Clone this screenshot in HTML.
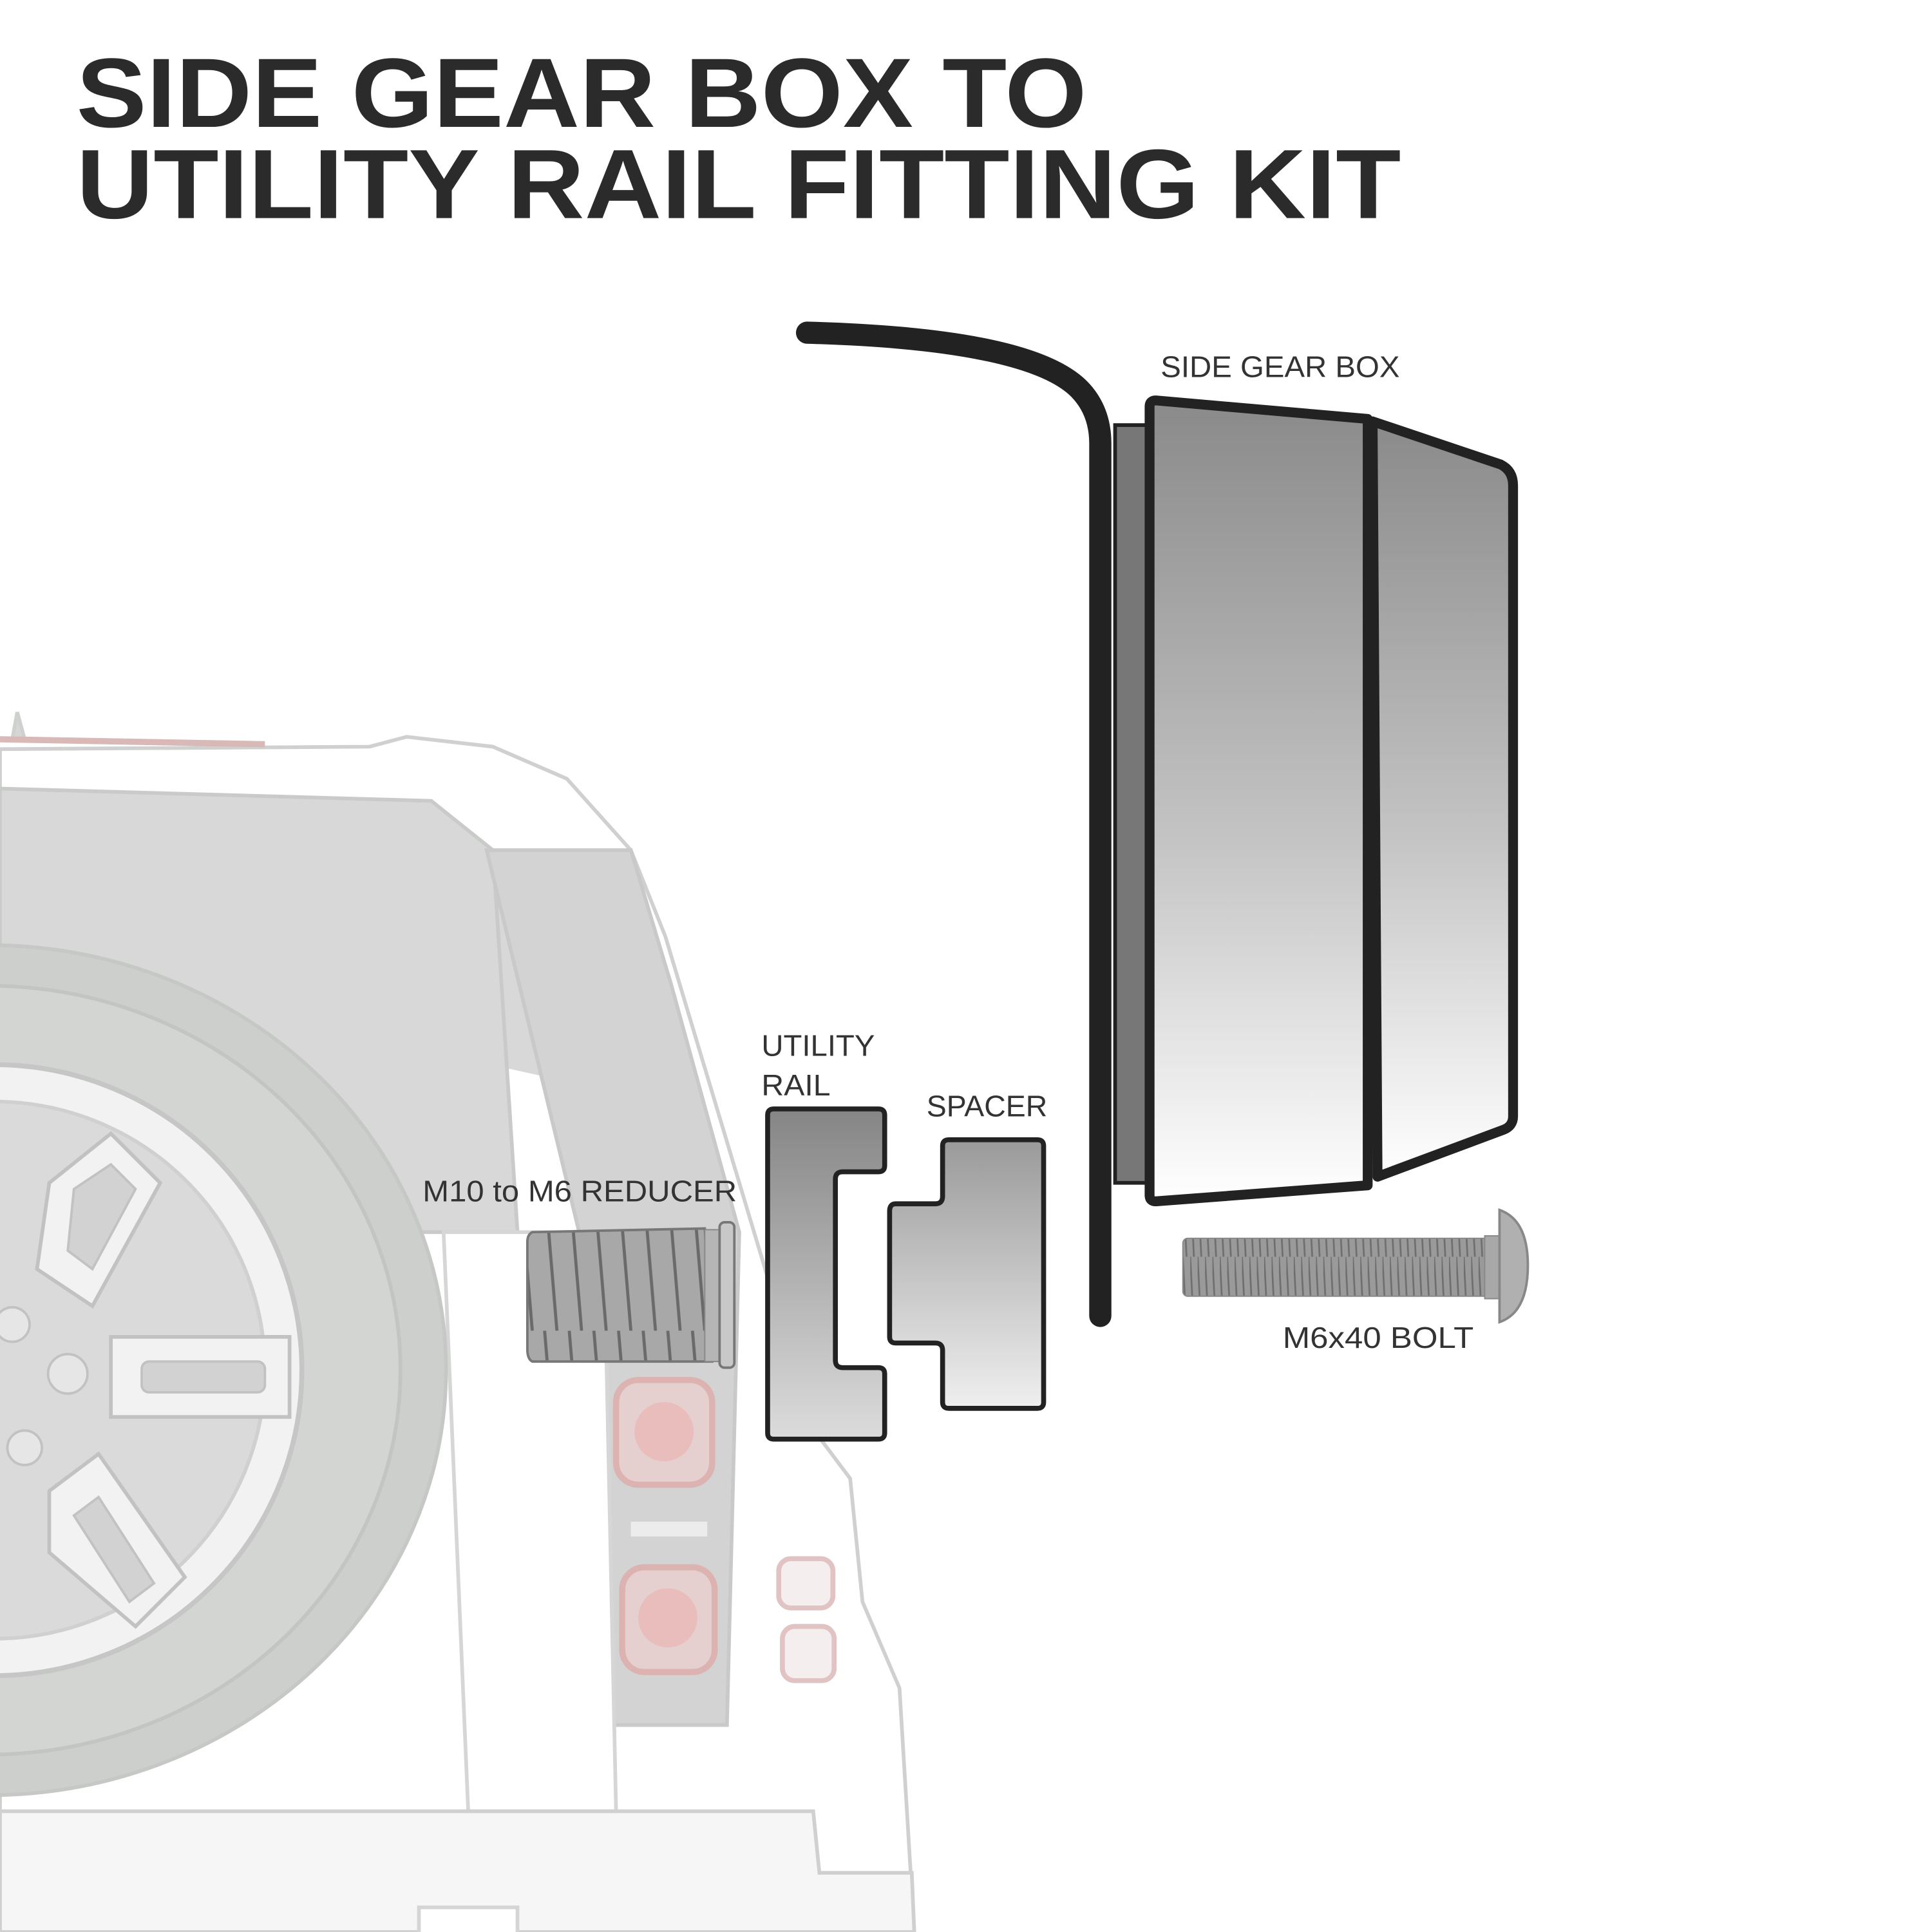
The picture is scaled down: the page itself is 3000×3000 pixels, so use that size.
<!DOCTYPE html>
<html><head><meta charset="utf-8"><style>
html,body{margin:0;padding:0;background:#fff}
svg{display:block}
</style></head><body>
<svg width="3000" height="3000" viewBox="0 0 1568 1568" xmlns="http://www.w3.org/2000/svg">
<defs>
<linearGradient id="gb" x1="0" y1="0" x2="0" y2="1"><stop offset="0" stop-color="#8a8a8a"/><stop offset="0.55" stop-color="#c4c4c4"/><stop offset="1" stop-color="#ffffff"/></linearGradient>
<linearGradient id="gr" x1="0" y1="0" x2="0" y2="1"><stop offset="0" stop-color="#858585"/><stop offset="1" stop-color="#dcdcdc"/></linearGradient>
<linearGradient id="gs" x1="0" y1="0" x2="0" y2="1"><stop offset="0" stop-color="#9a9a9a"/><stop offset="1" stop-color="#efefef"/></linearGradient>
<linearGradient id="gm" x1="0" y1="0" x2="0" y2="1"><stop offset="0" stop-color="#bdbdbd"/><stop offset="0.5" stop-color="#8c8c8c"/><stop offset="1" stop-color="#b0b0b0"/></linearGradient>
<pattern id="thr" width="6" height="60" patternUnits="userSpaceOnUse"><rect width="6" height="60" fill="#9a9a9a"/><line x1="0" y1="0" x2="3" y2="60" stroke="#6e6e6e" stroke-width="1.4"/></pattern>
<pattern id="thr2" width="20" height="120" patternUnits="userSpaceOnUse"><rect width="20" height="120" fill="#a8a8a8"/><line x1="2" y1="0" x2="12" y2="120" stroke="#6a6a6a" stroke-width="2.5"/></pattern>
</defs>

<!-- Title -->
<g font-family="Liberation Sans, sans-serif" font-weight="bold" fill="#2b2b2b">
<text x="62" y="103" font-size="80" textLength="820" lengthAdjust="spacingAndGlyphs">SIDE GEAR BOX  TO</text>
<text x="62" y="177" font-size="80" textLength="1075" lengthAdjust="spacingAndGlyphs">UTILITY RAIL FITTING KIT</text>
</g>

<!-- Car (faded) -->
<g stroke="#cfd1cf" stroke-width="3">
<!-- antenna -->
<path d="M10 600 L14 578 L20 600 Z" fill="#d6d6d6"/>
<!-- roof/body outline -->
<path d="M0 608 L300 606 L330 598 L400 606 L460 632 L512 690 L540 760 L600 960 L660 1160 L690 1200 L700 1300 L730 1370 L742 1568 L0 1568 Z" fill="#ffffff"/>
<path d="M0 600 L215 604" stroke="#d9b8b8" stroke-width="5"/>
<!-- window -->
<path d="M0 640 L350 650 L400 690 L512 690 L560 900 L380 860 L0 780 Z" fill="#d7d8d7" stroke="none"/>
<path d="M0 640 L350 650 L400 690 L420 1000 L0 1000 Z" fill="#d7d8d7" stroke="#c9cbc9"/>
<!-- right pillar -->
<path d="M395 690 L512 690 L545 800 L600 1000 L590 1400 L480 1400 L470 1000 Z" fill="#d2d3d2" stroke="#c8c9c8"/>
<!-- tailgate white -->
<path d="M360 1000 L490 1000 L500 1470 L380 1470 Z" fill="#ffffff" stroke="#d6d6d6"/>
<!-- tail lights -->
<rect x="500" y="1120" width="78" height="85" rx="18" fill="#e5d0cf" stroke="#dcb3b0" stroke-width="5"/>
<circle cx="539" cy="1162" r="24" fill="#e8bdbb" stroke="none"/>
<rect x="512" y="1235" width="62" height="12" fill="#ececec" stroke="none"/>
<rect x="505" y="1272" width="75" height="85" rx="18" fill="#e5d0cf" stroke="#dcb3b0" stroke-width="5"/>
<circle cx="542" cy="1313" r="24" fill="#e8bdbb" stroke="none"/>
<rect x="632" y="1265" width="44" height="40" rx="10" fill="#f4eeee" stroke="#e0c3c2" stroke-width="4"/>
<rect x="635" y="1320" width="42" height="44" rx="10" fill="#f4eeee" stroke="#e0c3c2" stroke-width="4"/>
<!-- bumper -->
<path d="M0 1470 L660 1470 L665 1520 L740 1520 L742 1568 L0 1568 Z" fill="#f6f6f6" stroke="#d0d0d0"/>
<rect x="340" y="1548" width="80" height="25" fill="#fff" stroke="#d5d5d5"/>
<!-- tire -->
<ellipse cx="-10" cy="1112" rx="372" ry="345" fill="#cdcfcd" stroke="#c6c8c6"/>
<ellipse cx="-10" cy="1112" rx="335" ry="312" fill="#d3d5d3" stroke="#c3c5c3"/>
<!-- rim -->
<ellipse cx="-5" cy="1112" rx="250" ry="248" fill="#f2f2f2" stroke="#c6c6c6" stroke-width="4"/>
<ellipse cx="-5" cy="1112" rx="220" ry="218" fill="#d9dad9" stroke="#d0d0d0"/>
<g fill="#f2f2f2" stroke="#c2c2c2" stroke-width="3">
<path d="M40 960 L90 920 L130 960 L75 1060 L30 1030 Z"/>
<path d="M90 1085 L235 1085 L235 1150 L90 1150 Z"/>
<path d="M40 1210 L80 1180 L150 1280 L110 1320 L40 1260 Z"/>
</g>
<g fill="#d2d2d2" stroke="#c2c2c2" stroke-width="2">
<path d="M60 965 L90 945 L110 965 L75 1030 L55 1015 Z"/>
<rect x="115" y="1105" width="100" height="25" rx="6"/>
<path d="M60 1230 L80 1215 L125 1285 L105 1300 Z"/>
<circle cx="55" cy="1115" r="16" fill="#e6e6e6"/>
<circle cx="10" cy="1075" r="14" fill="#e6e6e6"/>
<circle cx="20" cy="1175" r="14" fill="#e6e6e6"/>
</g>
</g>

<!-- Side gear box -->
<rect x="905" y="345" width="28" height="615" fill="#777" stroke="#222" stroke-width="3"/>
<path d="M938 325 L1110 340 L1110 962 L938 975 Q933 975 933 970 L933 330 Q933 325 938 325 Z" fill="url(#gb)" stroke="#222" stroke-width="8" stroke-linejoin="round"/>
<path d="M1114 342 L1218 377 Q1228 382 1228 394 L1228 906 Q1228 914 1220 917 L1118 955 Z" fill="url(#gb)" stroke="#222" stroke-width="8" stroke-linejoin="round"/>
<path d="M655 270 Q840 275 878 318 Q893 335 893 360 L893 1068" fill="none" stroke="#222" stroke-width="18" stroke-linecap="round" stroke-linejoin="round"/>

<!-- Utility rail -->
<path d="M628 900 L713 900 Q718 900 718 905 L718 946 Q718 951 713 951 L684 951 Q678 951 678 957 L678 1104 Q678 1110 684 1110 L713 1110 Q718 1110 718 1115 L718 1163 Q718 1168 713 1168 L628 1168 Q623 1168 623 1163 L623 905 Q623 900 628 900 Z" fill="url(#gr)" stroke="#222" stroke-width="4"/>
<!-- Spacer -->
<path d="M770 925 L842 925 Q847 925 847 930 L847 1138 Q847 1143 842 1143 L770 1143 Q765 1143 765 1138 L765 1096 Q765 1090 759 1090 L727 1090 Q722 1090 722 1085 L722 983 Q722 977 727 977 L759 977 Q765 977 765 971 L765 930 Q765 925 770 925 Z" fill="url(#gs)" stroke="#222" stroke-width="4"/>

<!-- Reducer -->
<path d="M432 1000 L572 997 L578 1105 L432 1105 Q428 1103 428 1095 L428 1008 Q428 1002 432 1000 Z" fill="url(#thr2)" stroke="#777" stroke-width="2"/>
<rect x="572" y="998" width="12" height="107" fill="#b5b5b5" stroke="#888"/>
<rect x="584" y="992" width="12" height="118" rx="4" fill="#c8c8c8" stroke="#777" stroke-width="2"/>

<!-- Bolt -->
<rect x="960" y="1005" width="252" height="47" rx="4" fill="url(#thr)" stroke="#888"/>
<rect x="1205" y="1003" width="12" height="51" fill="#a8a8a8" stroke="#888"/>
<path d="M1217 982 Q1240 990 1240 1027 Q1240 1065 1217 1073 Z" fill="#b0b0b0" stroke="#888" stroke-width="2"/>

<!-- Labels -->
<g font-family="Liberation Sans, sans-serif" font-size="24" fill="#333">
<text x="942" y="306" textLength="194" lengthAdjust="spacingAndGlyphs">SIDE GEAR BOX</text>
<text x="618" y="857" textLength="92" lengthAdjust="spacingAndGlyphs">UTILITY</text>
<text x="618" y="889" textLength="56" lengthAdjust="spacingAndGlyphs">RAIL</text>
<text x="752" y="906" textLength="98" lengthAdjust="spacingAndGlyphs">SPACER</text>
<text x="343" y="975" textLength="255" lengthAdjust="spacingAndGlyphs">M10 to M6 REDUCER</text>
<text x="1041" y="1094" textLength="155" lengthAdjust="spacingAndGlyphs">M6x40 BOLT</text>
</g>
</svg>
</body></html>
